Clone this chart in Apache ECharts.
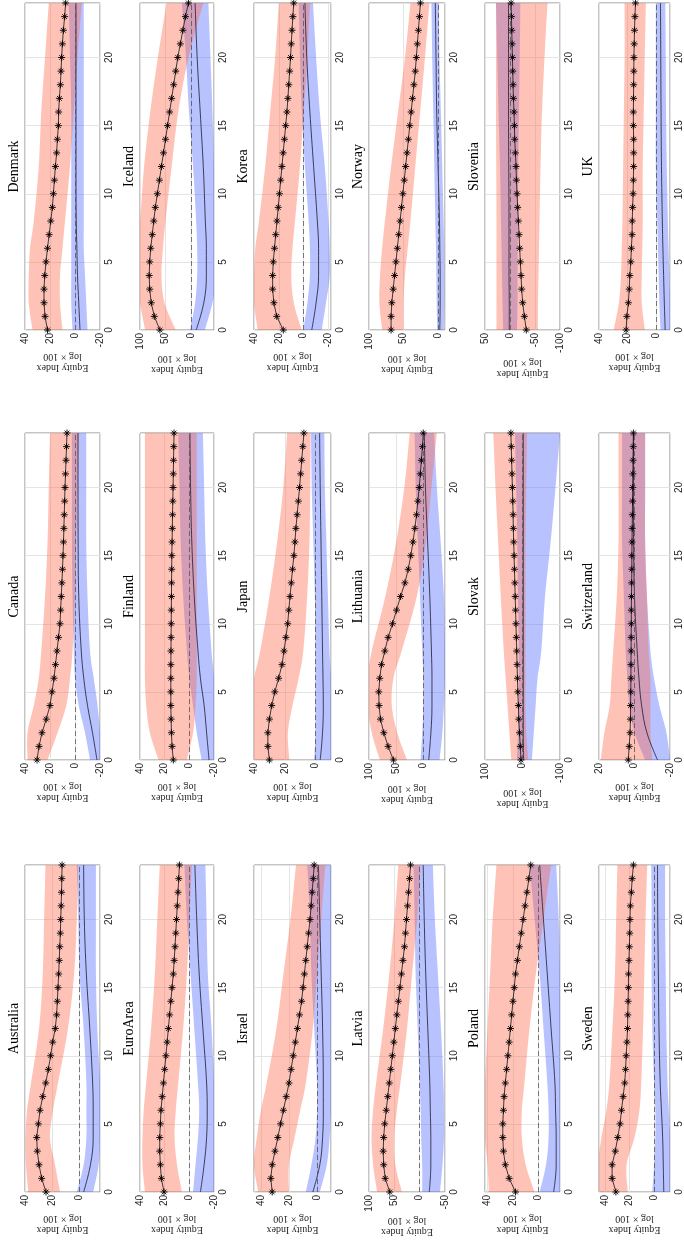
<!DOCTYPE html>
<html><head><meta charset="utf-8">
<script src="https://cdn.jsdelivr.net/npm/echarts@6/dist/echarts.min.js"></script>
<style>html,body{margin:0;padding:0;background:#fff}#c{width:684px;height:1240px}</style>
</head><body><div id="c"></div>
<script>
// ---------------- data ----------------
const countries = ['Australia','Canada','Denmark','EuroArea','Finland','Iceland','Israel','Japan','Korea',
  'Latvia','Lithuania','Norway','Poland','Slovak','Slovenia','Sweden','Switzerland','UK'];
const horizon = [0,1,2,3,4,5,6,7,8,9,10,11,12,13,14,15,16,17,18,19,20,21,22,23,24];
const bandH = [0,2,4,6,8,12,16,20,24];
const valueMin = [-15,-20,-20,-20,-20,-45,-10,-10,-22,-50,-40,-10,-17,-100,-100,-13,-20,-10];
const valueMax = [40,40,40,40,40,100,45,40,40,100,100,100,42,100,50,45,20,40];
const tickStep = [20,20,20,20,20,50,20,20,20,50,50,50,20,100,50,20,20,20];

const redMedian = [
 [24.6,27.8,29.7,31,31.4,30.2,29,27,24.8,22.9,21.2,19.7,17.8,16.8,16.3,15.8,15.3,14.9,14.5,14.1,13.8,13.5,13.2,13,12.8],
 [30.4,28.8,26.4,23,20,18.4,16.8,15.6,14.4,13.2,12,11.5,11,10.5,10,9.6,9.2,8.9,8.6,8.3,8,7.6,7.2,6.8,6.4],
 [22,24,24.8,24.8,24.2,23.2,22,20.7,19.4,18.1,17.3,16.5,15.7,14.7,14.1,13.3,13.1,12.5,11.7,11.2,10.7,10.1,9.3,8.3,7.5],
 [20.5,22.7,23.5,24,24,23.5,23,22,21,20,19,18,17,16,15,14,13,12.3,11.6,11,10.4,9.8,9.2,8.6,8],
 [13,14,14.5,14.8,15,15,15,15,14.9,14.8,14.7,14.6,14.5,14.4,14.3,14.2,14,13.8,13.6,13.4,13.2,13,12.8,12.6,12.4],
 [61,72,78,81,82,81,79,76,73,70,66,62,58,54,50,46,42,38,34,30,26,21,16,11,5],
 [32,33,32,30,28,26,24,22,20,18.5,17,15.5,14,12.5,11,10,9,8,7,6,5,4.2,3.5,2.7,2],
 [30,31,31,30,28.5,26.5,24,21.8,20.5,19.3,18.1,17.4,16.6,15.8,15,14.1,13.4,12.8,12,11.2,10.4,9.7,9,8.3,7.6],
 [16.4,21.7,24,25,25,24.5,23.5,22.5,21.5,20.5,19.5,18.5,17.5,16.5,15.5,14.5,13.5,12.7,12,11.3,10.6,10,9.4,8.7,8],
 [59,68,71,72,71,69,66,63,60,57,54,51,48,45,42,39,36,33,30,28,26,24,22,20,18],
 [55,64.8,72.8,78.9,81.5,82,80.2,77,70.9,64.8,56.7,49.3,41.9,33.9,27.8,23,19,15.5,12.5,10,7.5,5.5,3.5,1.5,0],
 [68,68,67,65,63,61,59,57,55,53,51,49,47,45,43,41,39,37,35,33,31.5,30,28.5,27,25.6],
 [18,23,26,27.5,28,28,27.5,27,26,25,24,23,22,21,20,19,18,16.5,15,13.5,12,10.5,9,7.5,6],
 [4,6,8,10,11,12.5,13.5,14.5,15.5,16.5,17.5,18.5,19.5,20.5,21.5,22.5,23.5,24.5,25,26,27,28,29,30,31],
 [-32.6,-28.7,-25.4,-23.3,-22.1,-20.7,-19.4,-18.1,-16.8,-15.4,-14.1,-12.8,-12.1,-10.8,-9.4,-8.8,-8.1,-6.8,-6.1,-5.5,-4.8,-4.2,-3.5,-2.9,-2.2],
 [31.2,34.3,34.3,31.7,29.7,27.8,26.6,25.3,24,23.3,22.8,22.2,21.7,21.5,21.2,21,20.9,20.5,20.2,19.9,19.7,19.4,18.6,17.9,16.9],
 [3.5,3,2.5,2.3,2.2,2.1,2,2,1.9,1.9,1.8,1.8,1.7,1.6,1.5,1.5,1.4,1.3,1.2,1.1,1,0.9,0.8,0.7,0.6],
 [20.9,20.4,19.3,18.7,18.3,17.6,17.2,16.7,16.6,16.3,16,15.8,15.6,15.6,15.6,15.8,15.8,15.7,15.6,15.5,15.4,15.2,15,14.7,14.3]
];
const redLo = [
 [14.3,18,21.7,19.5,15.8,8.5,4,2,1],
 [22,14,7,4,2,0,-1,-2,-3],
 [10,12,12,10,8,4,1,-2,-5.4],
 [6,10,12,11,9,5,2,0,-2],
 [2,-3,-5,-6,-6,-6,-6,-6,-6],
 [30,52,58,55,50,38,25,5,-24],
 [20,20,16,12,8,3,0,-3,-6],
 [17,18,15,11,8,5.5,4,3.5,3.2],
 [1.6,8,10,9,7,3,0,-3,-5],
 [35,48,50,45,38,25,15,5,-2],
 [30,48,58,55,40,12,-5,-15,-25],
 [50,50,48,44,40,33,26,19,12.6],
 [3,10,13,13,11,7,2,-4,-10],
 [-15,-10,-8,-8,-8,-8,-8,-10,-12],
 [-55.7,-56,-57,-58,-59,-61,-64,-69,-75],
 [21.5,22.5,16,12,10.5,9,8,7,5.6],
 [-10,-9,-9,-9,-8,-7,-6,-6,-6],
 [7.7,9.9,9.9,9.5,9.2,9.2,8.5,7.8,7]
];
const redHi = [
 [37.6,39.3,39.6,38.5,35.6,29.7,27,26,25],
 [38,38,33,29,27,24,22,21,20],
 [34,37,37,36,33,29,27,24,21],
 [36,38,38,37,35,31,28,26,24],
 [25,32,35,36,36,36,36,36,36],
 [90,100,105,105,100,92,80,65,48],
 [42,45,43,40,36,29,24,19,15],
 [42,43,42,40,36,30,25,21,18.5],
 [37,40,40,39,36,31,27,23,20],
 [84,92,95,92,86,72,60,50,42],
 [80,95,102,102,95,70,50,35,25],
 [81,85,84,81,77,68,58,48,40],
 [39,40,42,42,42,40,38,36,33],
 [30,35,40,45,50,58,65,72,78],
 [27,27,27,27,27,27.5,28,28,28],
 [46,46,43,39,36.5,34,32,31,30],
 [19,17,14,13,12,10,9,9,9],
 [29.7,26,24.5,24,23.5,23,22.5,22,22]
];
const blueMedian = [
 [-3,-8,-10,-10,-9.6,-7.5,-5,-3.5,-3],
 [-17.6,-14,-10,-7,-5,-3,-2.5,-2.4,-2.4],
 [-4,-3,-2,-1.5,-1,-0.8,-0.8,-0.8,-0.8],
 [-9,-12,-14,-14.5,-14,-11,-8,-6,-4.5],
 [-16,-14,-12,-9,-7,-4,-2,-1,-0.5],
 [-10,-25,-30,-30,-28,-24,-18,-12,-8],
 [3,-2,-4,-4.5,-4.5,-4,-3,-2,-1],
 [-3,-4.5,-5,-4.8,-4.5,-4,-3.5,-3,-2.6],
 [-6.5,-10,-12,-12,-11,-8,-5,-2.5,-1],
 [-19,-22,-22,-21,-20,-16,-12,-9,-7],
 [-10,-14,-16,-16,-15,-12,-8,-4,-2],
 [-2.4,-3,-3,-2.5,-2,0,2,3,4],
 [-12,-14,-14,-13.5,-13,-10,-7,-4,-1],
 [-3,-2,-2,-2,-2,-2,-2,-2,-2],
 [1.5,1.5,2,2,2,2.5,3,3,3],
 [-7.9,-7.5,-7,-6,-5,-4,-3.5,-3,-2.8],
 [-13,-7,-4,-2.5,-1.5,0,0.5,0.6,0.6],
 [-6.6,-6,-5.5,-5,-4.6,-4,-3.7,-3.5,-3.3]
];
const blueLo = [
 [-10,-14,-15,-15,-15,-13,-12,-12,-12],
 [-20,-20,-18,-15,-12,-10,-9,-9,-9],
 [-10,-9,-8,-7,-7,-7,-7,-7,-7],
 [-20,-20,-20,-20,-20,-18,-15,-14,-13],
 [-20,-20,-20,-20,-18,-15,-13,-12,-11],
 [-27,-42,-50,-50,-48,-45,-42,-38,-34],
 [-2,-7,-9,-10,-10,-10,-10,-10,-10],
 [-10,-10,-10,-10,-9,-8,-7,-6,-5.7],
 [-14.5,-18,-21,-21,-20,-17,-13,-10,-7.5],
 [-40,-45,-48,-48,-47,-42,-36,-30,-26],
 [-30,-35,-38,-40,-40,-38,-32,-25,-20],
 [-8.3,-9,-9,-9,-8,-6,-4,-2,-1],
 [-17,-17,-17,-17,-17,-17,-17,-16,-14],
 [-25,-30,-35,-40,-50,-60,-75,-88,-100],
 [-14,-15,-15,-15.5,-16,-16.5,-18,-19.5,-20.7],
 [-13,-13,-13,-12,-11,-10,-9.5,-9,-9],
 [-20,-18,-14,-11,-9,-7,-6,-6,-6],
 [-10,-10,-9.5,-9,-8.5,-7.7,-7.2,-7,-6.7]
];
const blueHi = [
 [2,-3,-5,-5,-5,-3,0,1,2],
 [-12,-8,-3,0,1,2,2.5,2.5,2.6],
 [2,3,3,3,3,3,3,4,5],
 [-3,-5,-7,-8,-7,-4,-1,2,4],
 [-10,-6,-3,0,2,5,7,8,9],
 [2,-8,-12,-12,-10,-4,4,10,18],
 [8,4,1,0,0,2,4,5,7],
 [1,0,0,0,0,0.5,1.5,2.5,3],
 [0.3,-3,-5,-5,-4,-1,1.5,3,4],
 [-5,-5,-3,-2,0,4,8,10,12],
 [5,2,0,0,2,6,10,14,16],
 [1.4,2,2.5,3,4,5.5,7,8.5,9.7],
 [-1,-6,-8,-8,-7,-4,-1,3,7],
 [15,12,10,10,10,12,14,17,20],
 [13.7,15,16,17,18,20,23,25.5,28],
 [1.5,0,-1,-1,0,1.5,2,2,2.3],
 [-6,0,3,4,5,6,7,7,7],
 [-3.3,-2.5,-2,-1.5,-1,0,0,0,0]
];

// ---------------- layout / style ----------------
const colLeft = [25,140,254,369,485,599];
const colWidth = [75,74,77,76,75,76];
const bandTop = [3,433,865];
const bandHeight = 327;
const RED_FILL = 'rgba(255,102,76,0.4)';
const BLUE_FILL = 'rgba(77,102,255,0.4)';
const STAR = 'path://M5,0L5,10M0,5L10,5M1.6,1.6L8.4,8.4M1.6,8.4L8.4,1.6';

function sampleSpline(p) {
  const out = [];
  const n = p.length;
  for (let i = 0; i < n - 1; i++) {
    const p0 = p[i - 1] || p[i], p1 = p[i], p2 = p[i + 1], p3 = p[i + 2] || p[i + 1];
    for (let s = 0; s < 8; s++) {
      const t = s / 8, t2 = t * t, t3 = t2 * t;
      const f = (a, b, c, d) => 0.5 * ((2 * b) + (-a + c) * t + (2 * a - 5 * b + 4 * c - d) * t2 + (-a + 3 * b - 3 * c + d) * t3);
      out.push([f(p0[0], p1[0], p2[0], p3[0]), f(p0[1], p1[1], p2[1], p3[1])]);
    }
  }
  out.push(p[n - 1]);
  return out;
}

function bandSeries(k, lo, hi, fill) {
  return {
    type: 'custom', xAxisIndex: k, yAxisIndex: 2 * k, silent: true, clip: true,
    data: [[0, 0]],
    renderItem: function (params, api) {
      const up = bandH.map((h, i) => api.coord([hi[i], h]));
      const dn = bandH.map((h, i) => api.coord([lo[i], h]));
      const pts = sampleSpline(up).concat(sampleSpline(dn).reverse());
      const cs = params.coordSys;
      return {
        type: 'polygon', shape: { points: pts }, style: { fill: fill, stroke: null },
        clipPath: { type: 'rect', shape: { x: cs.x, y: cs.y, width: cs.width, height: cs.height } }
      };
    }
  };
}

const option = { animation: false, backgroundColor: '#fff', grid: [], xAxis: [], yAxis: [], series: [] };

countries.forEach((name, k) => {
  const r = Math.floor(k / 3), c = k % 3;
  option.grid.push({
    left: colLeft[r], top: bandTop[2 - c], width: colWidth[r], height: bandHeight,
    show: true, borderColor: '#8a8a8a', borderWidth: 1, backgroundColor: 'rgba(0,0,0,0)'
  });
  const mn = valueMin[k], mx = valueMax[k], st = tickStep[k];
  const minOn = Math.abs(mn % st) < 1e-9, maxOn = Math.abs(mx % st) < 1e-9;
  const xa = {
    gridIndex: k, type: 'value', inverse: true, min: mn, max: mx, position: 'bottom',
    axisLine: { show: false }, axisTick: { show: false },
    axisLabel: { rotate: 90, margin: 3, fontSize: 10, color: '#262626', fontFamily: 'Liberation Sans',
      showMinLabel: minOn, showMaxLabel: maxOn },
    splitLine: { show: true, lineStyle: { color: '#e4e4e4', width: 1 } },
    name: 'Equity Index\nlog \u00d7 100', nameLocation: 'middle', nameGap: 21, nameRotate: 180,
    nameTextStyle: { fontFamily: 'Liberation Serif', fontSize: 10, lineHeight: 11, color: '#262626' }
  };
  if (minOn) xa.interval = st; else xa.splitNumber = Math.max(1, Math.round((mx - mn) / st));
  option.xAxis.push(xa);
  option.yAxis.push({
    gridIndex: k, type: 'value', min: 0, max: 24, interval: 5, position: 'right',
    axisLine: { show: false }, axisTick: { show: false },
    axisLabel: { rotate: 90, margin: 4, fontSize: 10, color: '#262626', fontFamily: 'Liberation Sans', showMaxLabel: false },
    splitLine: { show: true, lineStyle: { color: '#e4e4e4', width: 1 } }
  });
  option.yAxis.push({
    gridIndex: k, type: 'value', min: 0, max: 24, position: 'left',
    axisLine: { show: false }, axisTick: { show: false }, axisLabel: { show: false }, splitLine: { show: false },
    name: name, nameLocation: 'middle', nameGap: 4, nameRotate: 90,
    nameTextStyle: { fontFamily: 'Liberation Serif', fontSize: 14, color: '#000' }
  });

  option.series.push(bandSeries(k, blueLo[k], blueHi[k], BLUE_FILL));
  option.series.push(bandSeries(k, redLo[k], redHi[k], RED_FILL));
  option.series.push({
    type: 'line', xAxisIndex: k, yAxisIndex: 2 * k, silent: true, smooth: 0.4, symbol: 'none',
    data: bandH.map((h, i) => [blueMedian[k][i], h]),
    lineStyle: { color: '#1c1c2c', width: 0.8 },
    markLine: { silent: true, symbol: 'none', label: { show: false },
      lineStyle: { color: '#555', type: [5, 3], width: 0.8 }, data: [{ xAxis: 0 }] }
  });
  option.series.push({
    type: 'line', xAxisIndex: k, yAxisIndex: 2 * k, silent: true, clip: false,
    data: horizon.map((h, i) => [redMedian[k][i], h]),
    symbol: STAR, symbolSize: 7, showAllSymbol: true,
    itemStyle: { color: '#000', borderColor: '#000', borderWidth: 0.9 },
    lineStyle: { color: '#111', width: 0.8 }
  });
});

const chart = echarts.init(document.getElementById('c'), null, { renderer: 'canvas' });
chart.setOption(option);
</script></body></html>
